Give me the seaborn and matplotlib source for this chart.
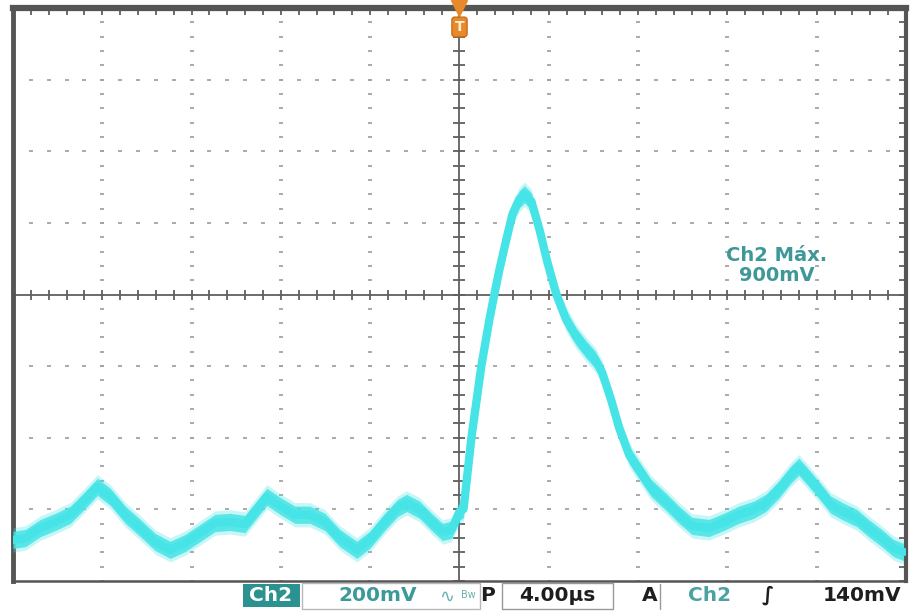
import numpy as np
import pandas as pd
import matplotlib
matplotlib.use("Agg")
import matplotlib.pyplot as plt
import seaborn as sns
from matplotlib.patches import Rectangle

# Ch2 capture: time relative to the trigger (µs) and amplitude (mV)
time_us = [-20.00, -19.44, -18.77, -18.10, -17.43, -16.76, -16.22, -15.64, -14.97, -14.30,
           -13.63, -12.96, -12.29, -11.62, -10.95, -10.28, -9.61, -9.03, -8.63, -8.04,
           -7.37, -6.70, -6.03, -5.36, -4.60, -4.02, -3.35, -2.77, -2.37, -1.79,
           -1.25, -0.76, -0.36, 0.00, 0.18, 0.54, 0.98, 1.34, 1.56, 1.79,
           2.10, 2.37, 2.68, 2.91, 3.22, 3.58, 3.93, 4.34, 4.78, 5.23,
           5.68, 6.08, 6.39, 6.79, 7.15, 7.60, 8.04, 8.58, 9.25, 9.83,
           10.41, 11.17, 11.84, 12.51, 13.18, 13.72, 14.30, 14.84, 15.20, 15.64,
           16.09, 16.63, 17.21, 17.79, 18.32, 18.91, 19.44, 19.89]
ch2_mv = [-65, -60, -32, -15, 5, 47, 83, 55, 5, -32,
          -71, -93, -74, -46, -18, -15, -21, 24, 55, 30,
          5, 5, -15, -60, -93, -65, -15, 24, 38, 19,
          -15, -43, -37, 13, 21, 223, 421, 550, 620, 690,
          774, 844, 886, 900, 880, 802, 712, 620, 550, 502,
          466, 438, 402, 326, 248, 172, 130, 80, 41, 5,
          -26, -32, -15, 5, 19, 38, 75, 117, 139, 108,
          75, 33, 13, -4, -32, -60, -88, -99]

# Scope settings
mv_per_div = 200
us_per_div = 4.0
center_mv = 620
ch2_max_mv = 900
trigger_mv = 140

max_label = f"Ch2 Máx.\n{ch2_max_mv}mV"
readout_scale = f"{mv_per_div}mV"
readout_time = f"{us_per_div:.2f}µs"
readout_trig = f"{trigger_mv}mV"

sns.set_style("white")
plt.rcParams['font.family'] = ['DejaVu Sans']

W, H = 910, 612
fig = plt.figure(figsize=(W / 100, H / 100), dpi=100)
fig.patch.set_facecolor('white')
ax = fig.add_axes([13 / W, 31 / H, 893 / W, 573 / H])

x_lo, x_hi = -5 * us_per_div, 5 * us_per_div
y_lo, y_hi = center_mv - 4 * mv_per_div, center_mv + 4 * mv_per_div
ax.set_xlim(x_lo, x_hi)
ax.set_ylim(y_lo, y_hi)

grid_c = '#a4a4a4'
axis_c = '#606060'
x_major = np.linspace(x_lo, x_hi, 11)
y_major = np.linspace(y_lo, y_hi, 9)
x_minor = np.linspace(x_lo, x_hi, 51)
y_minor = np.linspace(y_lo, y_hi, 41)

# dotted graticule
for xv in x_major[1:-1]:
    if abs(xv) < 1e-9:
        continue
    ax.plot(np.full(len(y_minor), xv), y_minor, ls='none', marker='_', ms=3.2,
            mew=1.3, color=grid_c, zorder=1)
for yv in y_major[1:-1]:
    if abs(yv - center_mv) < 1e-9:
        continue
    ax.plot(x_minor, np.full(len(x_minor), yv), ls='none', marker='_', ms=3.2,
            mew=1.3, color=grid_c, zorder=1)

# centre cross with sub-division ticks
ax.axhline(center_mv, color=axis_c, lw=1.3, zorder=2)
ax.axvline(0, color=axis_c, lw=1.3, zorder=2)
ax.plot(x_minor, np.full(len(x_minor), center_mv), ls='none', marker='|', ms=7,
        mew=1.3, color=axis_c, zorder=2)
ax.plot(np.zeros(len(y_minor)), y_minor, ls='none', marker='_', ms=8,
        mew=1.3, color=axis_c, zorder=2)

# frame ticks
ax.set_xticks(x_minor)
ax.set_yticks(y_minor)
ax.tick_params(axis='both', which='both', direction='in', length=5, width=1.3,
               colors=axis_c, top=True, right=True, labelbottom=False,
               labelleft=False)
for side, lw in (('top', 4.5), ('left', 3.5), ('right', 3.0), ('bottom', 1.8)):
    ax.spines[side].set_visible(True)
    ax.spines[side].set_linewidth(lw)
    ax.spines[side].set_color('#555555')

# trace: a noisy band around the acquired signal
cyan = '#46e4e6'
df = pd.DataFrame({'t': time_us, 'v': ch2_mv})
ax.fill_between(df['t'], df['v'] - 34, df['v'] + 34, color=cyan, alpha=0.3,
                lw=0, zorder=3)
ax.fill_between(df['t'], df['v'] - 24, df['v'] + 24, color=cyan, alpha=0.85,
                lw=0, zorder=3)
sns.lineplot(data=df, x='t', y='v', ax=ax, color=cyan, lw=6, estimator=None,
             sort=False, zorder=4)
ax.set_xlabel('')
ax.set_ylabel('')

# trigger position marker
xt = ax.get_xaxis_transform()
ax.plot([0], [1.0], marker='v', ms=11, color='#e8892b', transform=xt,
        clip_on=False, zorder=7)
ax.text(0, 0.967, 'T', transform=xt, ha='center', va='center', color='#fff0d0',
        fontsize=10, fontweight='bold', zorder=8,
        bbox=dict(boxstyle='round,pad=0.2', fc='#e8892b', ec='#c8701a', lw=1))

# measurement readout
ax.text(14.2, 701, max_label, ha='center', va='center', color='#3f9898',
        fontsize=14, fontweight='bold', linespacing=1.05, zorder=6)


# status bar along the bottom (pixel positions measured from the top-left)
def px(x, y):
    return x / W, (H - y) / H


def box(x0, y0, x1, y1, **kw):
    fig.add_artist(Rectangle(px(x0, y1), (x1 - x0) / W, (y1 - y0) / H,
                             transform=fig.transFigure, **kw))


yb = 595.5
fs = 14.5
teal = '#3a9a9a'
box(243, 584, 300, 607, fc='#2c928f', ec='none')
box(302, 583, 480, 609, fc='none', ec='#b8b8b8', lw=1)
box(502, 583, 613, 609, fc='none', ec='#999999', lw=1)
fig.add_artist(plt.Line2D([660 / W, 660 / W], [px(0, 584)[1], px(0, 609)[1]],
                          transform=fig.transFigure, color='#999999', lw=1))
fig.text(*px(271, yb), 'Ch2', ha='center', va='center', color='white',
         fontsize=fs, fontweight='bold')
fig.text(*px(378, yb), readout_scale, ha='center', va='center', color=teal,
         fontsize=fs, fontweight='bold')
fig.text(*px(447, yb + 1), '∿', ha='center', va='center', color='#6ab0b0',
         fontsize=13)
fig.text(*px(468, yb), 'Bw', ha='center', va='center', color='#6ab0b0',
         fontsize=7)
fig.text(*px(488, yb), 'P', ha='center', va='center', color='#1e1e1e',
         fontsize=fs, fontweight='bold')
fig.text(*px(557, yb), readout_time, ha='center', va='center', color='#1e1e1e',
         fontsize=fs, fontweight='bold')
fig.text(*px(650, yb), 'A', ha='center', va='center', color='#1e1e1e',
         fontsize=fs, fontweight='bold')
fig.text(*px(710, yb), 'Ch2', ha='center', va='center', color='#4aa2a2',
         fontsize=fs, fontweight='bold')
fig.text(*px(768, yb), '∫', ha='center', va='center', color='#1e1e1e',
         fontsize=fs, fontweight='bold', style='italic')
fig.text(*px(862, yb), readout_trig, ha='center', va='center', color='#1e1e1e',
         fontsize=fs, fontweight='bold')

fig.savefig('out.png', dpi=100, facecolor='white')
